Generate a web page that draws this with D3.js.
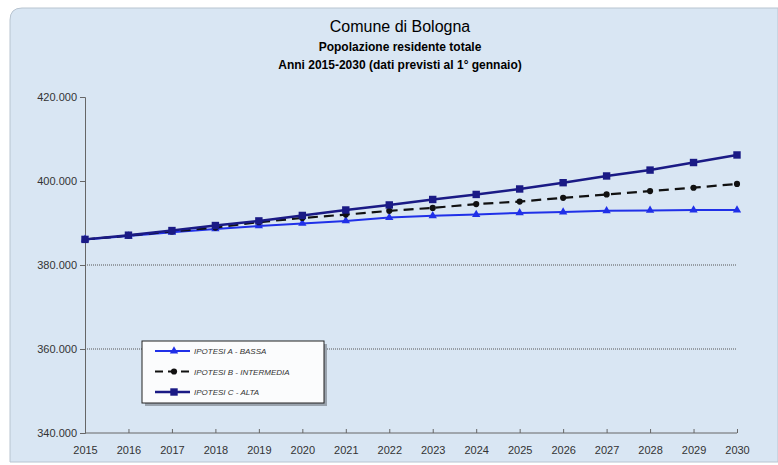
<!DOCTYPE html>
<html>
<head>
<meta charset="utf-8">
<script src="https://cdn.jsdelivr.net/npm/d3@7"></script>
<style>
  body { margin: 0; background: #fff; }
  svg { display: block; font-family: "Liberation Sans", Arial, sans-serif; }
</style>
</head>
<body>
<div id="chart"></div>
<script>
// anni e valori (popolazione residente al 1 gennaio)
const years = [2015, 2016, 2017, 2018, 2019, 2020, 2021, 2022, 2023, 2024, 2025, 2026, 2027, 2028, 2029, 2030]
const bassa = [386100, 386900, 387800, 388600, 389300, 389900, 390500, 391300, 391700, 392000, 392400, 392600, 392900, 393000, 393100, 393100]
const intermedia = [386100, 387000, 388000, 388900, 390200, 391200, 392000, 392900, 393600, 394500, 395100, 396000, 396800, 397600, 398400, 399300]
const alta = [386100, 387100, 388200, 389400, 390500, 391800, 393100, 394300, 395600, 396800, 398100, 399600, 401200, 402600, 404400, 406200]
const yTicks = [340000, 360000, 380000, 400000, 420000]
const gridTicks = [360000, 380000]
const seriesNames = ["IPOTESI A - BASSA", "IPOTESI B - INTERMEDIA", "IPOTESI C - ALTA"]

const w = 778
const h = 465

var svg = d3.select("#chart").append("svg")
    .attr("width", w).attr("height", h)

// sfondo
svg.append("path")
    .attr("d", "M10,20 Q10,8 22,8 L778,8 L778,462 L10,462 Z")
    .attr("fill", "#d9e6f3")
    .attr("stroke", "#b8c4d0")

var x = d3.scalePoint().domain(years).range([85, 737])
var y = d3.scaleLinear().domain([340000, 420000]).range([433, 97])

// titolo
svg.append("text").attr("x", 400).attr("y", 32).attr("text-anchor", "middle")
    .style("font-size", "16px").text("Comune di Bologna")
svg.append("text").attr("x", 400).attr("y", 51).attr("text-anchor", "middle")
    .style("font-size", "12px").style("font-weight", "bold").text("Popolazione residente totale")
svg.append("text").attr("x", 400).attr("y", 69).attr("text-anchor", "middle")
    .style("font-size", "12px").style("font-weight", "bold").text("Anni 2015-2030 (dati previsti al 1° gennaio)")

// griglia
svg.selectAll(".grid").data(gridTicks).enter().append("line")
    .attr("class", "grid")
    .attr("x1", 85).attr("x2", 737)
    .attr("y1", d => y(d)).attr("y2", d => y(d))
    .attr("stroke", "#555").attr("stroke-width", 1).attr("stroke-dasharray", "1,1")

var fmt = d => d3.format(",")(d).replace(/,/g, ".")

var yAxis = svg.append("g").attr("transform", "translate(85,0)")
    .call(d3.axisLeft(y).tickValues(yTicks).tickFormat(fmt).tickSize(5).tickPadding(3))
var xAxis = svg.append("g").attr("transform", "translate(0,433)")
    .call(d3.axisBottom(x).tickSize(-4).tickPadding(13))

;[yAxis, xAxis].forEach(function(a) {
    a.select(".domain").attr("stroke", "#666")
    a.selectAll(".tick line").attr("stroke", "#666")
    a.selectAll("text").style("font-size", "11px").attr("fill", "#333")
        .style("font-family", "'Liberation Sans', Arial, sans-serif")
})
xAxis.select(".domain").attr("d", "M85,0H737")

var line = d3.line().x((d, i) => x(years[i])).y(d => y(d))

var series = [
    { name: seriesNames[0], values: bassa, color: "#2030e8", width: 2, dash: null, marker: d3.symbolTriangle, msize: 30 },
    { name: seriesNames[1], values: intermedia, color: "#111", width: 2.2, dash: "10,6", marker: d3.symbolCircle, msize: 30 },
    { name: seriesNames[2], values: alta, color: "#1a1a85", width: 2.5, dash: null, marker: d3.symbolSquare, msize: 55 }
]

series.forEach(function(s) {
    svg.append("path").datum(s.values)
        .attr("d", line)
        .attr("fill", "none")
        .attr("stroke", s.color)
        .attr("stroke-width", s.width)
        .attr("stroke-dasharray", s.dash)
    svg.selectAll(null).data(s.values).enter().append("path")
        .attr("d", d3.symbol().type(s.marker).size(s.msize))
        .attr("transform", (d, i) => "translate(" + x(years[i]) + "," + y(d) + ")")
        .attr("fill", s.color)
})

// legenda
var leg = svg.append("g").attr("transform", "translate(142,341)")
leg.append("rect").attr("x", 3).attr("y", 3).attr("width", 182).attr("height", 62).attr("fill", "#9aa3ad")
leg.append("rect").attr("width", 182).attr("height", 62).attr("fill", "#fbfcfd").attr("stroke", "#222")

series.forEach(function(s, i) {
    var ly = 10 + i * 20.5
    leg.append("line").attr("x1", 13).attr("x2", 48).attr("y1", ly).attr("y2", ly)
        .attr("stroke", s.color).attr("stroke-width", s.width)
        .attr("stroke-dasharray", s.dash ? "8,5" : null)
    leg.append("path").attr("d", d3.symbol().type(s.marker).size(s.msize))
        .attr("transform", "translate(32," + ly + ")").attr("fill", s.color)
    leg.append("text").attr("x", 52).attr("y", ly + 3)
        .style("font-size", "8px").style("font-style", "italic").attr("fill", "#333")
        .text(s.name)
})
</script>
</body>
</html>
